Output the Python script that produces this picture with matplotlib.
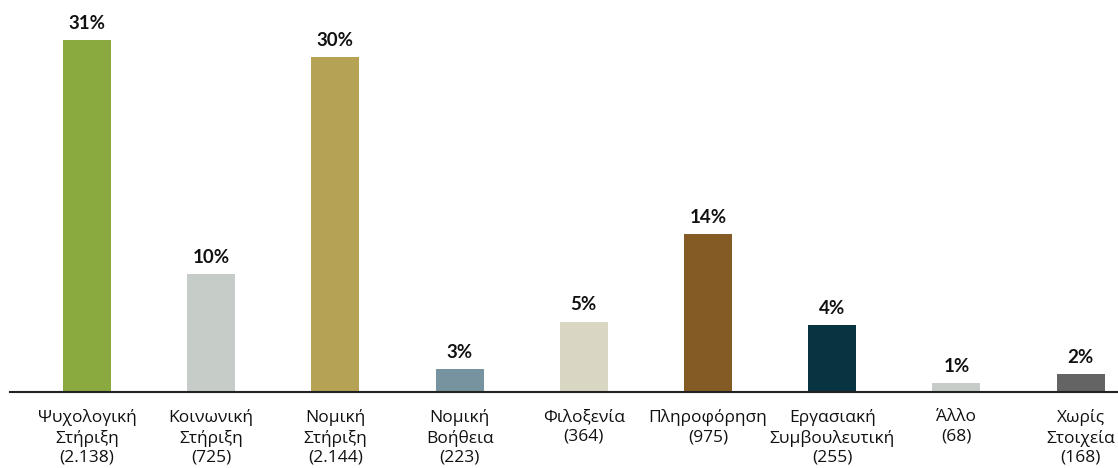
import matplotlib
matplotlib.use("Agg")
import matplotlib.pyplot as plt
import numpy as np

plt.rcParams["font.family"] = ["Open Sans", "Noto Sans", "DejaVu Sans"]

categories = [
    "Ψυχολογική\nΣτήριξη\n(2.138)",
    "Κοινωνική\nΣτήριξη\n(725)",
    "Νομική\nΣτήριξη\n(2.144)",
    "Νομική\nΒοήθεια\n(223)",
    "Φιλοξενία\n(364)",
    "Πληροφόρηση\n(975)",
    "Εργασιακή\nΣυμβουλευτική\n(255)",
    "Άλλο\n(68)",
    "Χωρίς\nΣτοιχεία\n(168)",
]
# bar heights as drawn, and the printed labels
heights = [31.0, 10.4, 29.5, 2.0, 6.2, 13.9, 5.9, 0.8, 1.6]
pct_labels = ["31%", "10%", "30%", "3%", "5%", "14%", "4%", "1%", "2%"]
colors = ["#8AA93F", "#C6CCC8", "#B5A254", "#7893A0", "#D9D6C4",
          "#855B25", "#083341", "#C6CCC8", "#646464"]

W, H = 1118, 468
fig = plt.figure(figsize=(W / 100, H / 100), dpi=100)

base_px = 392          # baseline y from top
left_px = 10
step_px = 124.2
first_px = 87
unit_px = 352 / 31.0

ax = fig.add_axes([left_px / W, (H - base_px) / H, 1 - left_px / W, base_px / H])
x = np.arange(len(categories))
ax.bar(x, heights, width=48 / step_px, color=colors)

ax.set_xlim((left_px - first_px) / step_px, (W - first_px) / step_px)
ax.set_ylim(0, base_px / unit_px)

for xi, h, lab in zip(x, heights, pct_labels):
    ax.annotate(lab, (xi, h), xytext=(0, 8), textcoords="offset points",
                ha="center", va="baseline", fontsize=13.5, fontweight="bold",
                family=["Lato", "DejaVu Sans"], color="#111111")

ax.set_xticks(x)
ax.set_xticklabels(categories, fontsize=12.5, linespacing=1.25, color="#111111")
ax.tick_params(axis="x", length=0, pad=12.5)
ax.set_yticks([])
for s in ["top", "right", "left"]:
    ax.spines[s].set_visible(False)
ax.spines["bottom"].set_linewidth(1.5)
ax.spines["bottom"].set_color("#222222")

fig.savefig("out.png", dpi=100)
